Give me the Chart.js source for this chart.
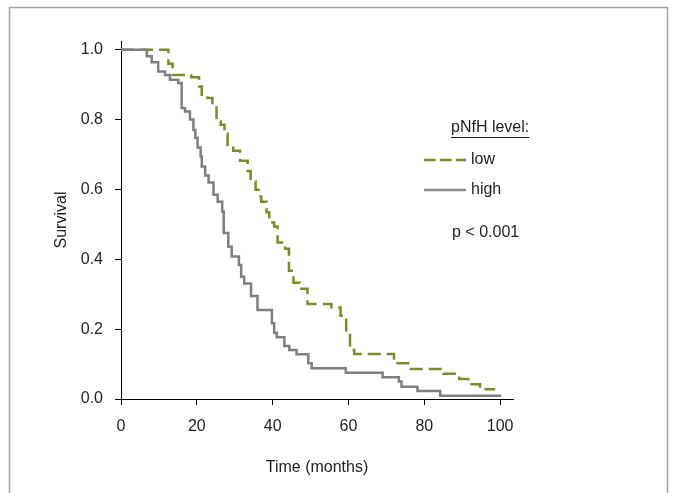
<!DOCTYPE html>
<html>
<head>
<meta charset="utf-8">
<script src="https://cdn.jsdelivr.net/npm/chart.js@4.4.1/dist/chart.umd.min.js"></script>
<style>
  html, body { margin: 0; padding: 0; background: #fff; }
  canvas { display: block; }
</style>
</head>
<body>
<canvas id="chart" width="675" height="493"></canvas>
<script>
// Kaplan-Meier steps: time (months) and survival after each drop
const lowTime = [0, 12.5, 13.6, 18.5, 20.6, 21.3, 22.8, 24.1, 25.2, 26.3, 27.3, 28.1, 29.6, 31.4, 33.4, 34.2, 35.5, 36.3, 37, 38.4, 39.1, 40.4, 41.3, 43.3, 44.3, 45.5, 47.2, 49.2, 55.5, 57.9, 59.4, 60.4, 61.5, 72, 76.5, 85, 89.2, 91.6, 94.7, 98.7]
const lowSurv = [1.0, 0.96, 0.928, 0.921, 0.895, 0.871, 0.862, 0.84, 0.795, 0.785, 0.76, 0.723, 0.711, 0.682, 0.653, 0.623, 0.599, 0.58, 0.565, 0.535, 0.505, 0.494, 0.448, 0.43, 0.367, 0.333, 0.316, 0.272, 0.262, 0.238, 0.193, 0.14, 0.129, 0.102, 0.086, 0.072, 0.057, 0.042, 0.028, 0.028]

const highTime = [0, 6.8, 8.1, 9.8, 11.6, 12.9, 15.1, 16.0, 16.9, 18.2, 19.1, 19.6, 20.2, 21.0, 21.3, 22.2, 23.1, 24.4, 25.5, 26.7, 27.1, 28.3, 29.2, 31.1, 31.7, 32.5, 34.3, 36.0, 39.8, 40.4, 41.1, 43.1, 44.4, 46.3, 49.4, 50.3, 59.3, 69.0, 73.3, 74.0, 78.2, 84.2, 100.3]
const highSurv = [1.0, 0.981, 0.964, 0.938, 0.928, 0.914, 0.905, 0.833, 0.823, 0.80, 0.77, 0.748, 0.72, 0.694, 0.666, 0.64, 0.62, 0.585, 0.565, 0.537, 0.475, 0.436, 0.408, 0.384, 0.35, 0.331, 0.295, 0.255, 0.217, 0.19, 0.177, 0.152, 0.14, 0.128, 0.102, 0.088, 0.075, 0.062, 0.05, 0.035, 0.023, 0.009, 0.009]

const xTicks = [0, 20, 40, 60, 80, 100]
const yTicks = [0, 0.2, 0.4, 0.6, 0.8, 1.0]
const seriesNames = ['low', 'high']
const legendTitle = 'pNfH level:'
const pText = 'p < 0.001'
const xTitle = 'Time (months)'
const yTitle = 'Survival'

const green = '#7b8b28'
const grey = '#7f7f7f'
const textColor = '#1e1e1e'
const family = '"Liberation Sans", Arial, sans-serif'

function toPoints(t, s){
    return t.map((v, i) => ({x: v, y: s[i]}))
}

// frame around the figure + the hand made legend and p value
const extras = {
    id: 'extras',
    afterDraw(chart){
        const ctx = chart.ctx
        ctx.save()
        ctx.strokeStyle = '#a3a3a3'
        ctx.lineWidth = 1.5
        ctx.strokeRect(9.5, 7.5, 658, 500)

        ctx.font = '16px ' + family
        ctx.fillStyle = textColor
        ctx.textBaseline = 'middle'
        ctx.fillText(legendTitle, 451, 128)
        const w = ctx.measureText(legendTitle).width
        ctx.fillRect(451, 137, w, 1)

        ctx.lineWidth = 2.5
        ctx.strokeStyle = green
        ctx.setLineDash([11.5, 4.5])
        ctx.beginPath(); ctx.moveTo(424, 160); ctx.lineTo(466, 160); ctx.stroke()
        ctx.setLineDash([])
        ctx.strokeStyle = '#8c8c8c'
        ctx.beginPath(); ctx.moveTo(424, 190); ctx.lineTo(466, 190); ctx.stroke()

        ctx.fillText(seriesNames[0], 471, 160)
        ctx.fillText(seriesNames[1], 471, 190)
        ctx.fillText(pText, 452, 233)
        ctx.restore()
    }
}

new Chart(document.getElementById('chart'), {
    type: 'line',
    data: {
        datasets: [
            {label: seriesNames[1], data: toPoints(highTime, highSurv), borderColor: grey, borderWidth: 2.5,
             stepped: 'before', pointRadius: 0, fill: false, order: 0},
            {label: seriesNames[0], data: toPoints(lowTime, lowSurv), borderColor: green, borderWidth: 2.5,
             borderDash: [13, 6], stepped: 'before', pointRadius: 0, fill: false, order: 1}
        ]
    },
    options: {
        responsive: false,
        animation: false,
        devicePixelRatio: 1,
        layout: {padding: {left: 0, right: 162, top: 41, bottom: 0}},
        plugins: {legend: {display: false}, tooltip: {enabled: false}},
        scales: {
            x: {
                type: 'linear', min: 0, max: 103.4,
                afterBuildTicks: s => { s.ticks = xTicks.map(v => ({value: v})) },
                afterFit: s => { s.height = 94 },
                border: {color: '#000', width: 1},
                grid: {drawOnChartArea: false, tickLength: 6, color: '#000'},
                ticks: {color: textColor, font: {family: family, size: 16}, padding: 12, maxRotation: 0},
                title: {display: true, text: xTitle, color: textColor, font: {family: family, size: 16}, padding: {top: 0, bottom: 16}}
            },
            y: {
                type: 'linear', min: 0, max: 1.025,
                afterBuildTicks: s => { s.ticks = yTicks.map(v => ({value: v})) },
                afterFit: s => { s.width = 121 },
                border: {color: '#000', width: 1},
                grid: {drawOnChartArea: false, tickLength: 6, color: '#000'},
                ticks: {color: textColor, font: {family: family, size: 16}, padding: 12, callback: v => v.toFixed(1)},
                title: {display: true, text: yTitle, color: textColor, font: {family: family, size: 16}, padding: {top: 52, bottom: 0}}
            }
        }
    },
    plugins: [extras]
})
</script>
</body>
</html>
